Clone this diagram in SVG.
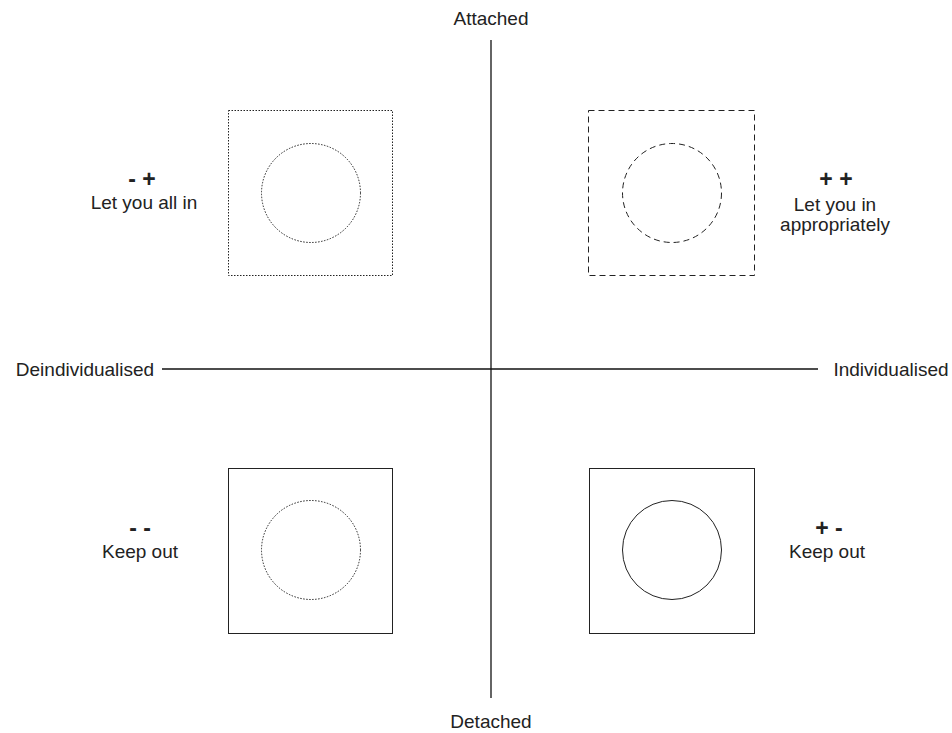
<svg xmlns="http://www.w3.org/2000/svg" width="952" height="733" viewBox="0 0 952 733">
<style>
text{font-family:"Liberation Sans",Arial,sans-serif;font-size:19px;fill:#222;text-anchor:middle}
.sign{font-size:23px;font-weight:bold}
.sh{fill:none;stroke:#222;stroke-width:1}
.dot{stroke-dasharray:1.5 1.5}
.dash{stroke-dasharray:6 4}
.axis{stroke:#111;stroke-width:1.3}
</style>
<rect width="952" height="733" fill="#fff"/>
<g id="connectors">
<line class="axis" x1="491" y1="40" x2="491" y2="698"/>
<line class="axis" x1="162" y1="369" x2="818" y2="369"/>
</g>
<g id="axis-labels">
<text x="491" y="25">Attached</text>
<text x="491" y="728">Detached</text>
<text x="85" y="376">Deindividualised</text>
<text x="891" y="376">Individualised</text>
</g>
<g id="q-tl">
<rect class="sh dot" x="228.5" y="110.5" width="164" height="165"/>
<circle class="sh dot" cx="311" cy="193" r="49.5"/>
<text class="sign" x="142" y="187">- +</text>
<text x="144" y="209">Let you all in</text>
</g>
<g id="q-tr">
<rect class="sh dash" x="588.5" y="110.5" width="166" height="165"/>
<circle class="sh dash" cx="672" cy="193" r="49.5"/>
<text class="sign" x="836" y="187">+ +</text>
<text x="835" y="211">Let you in</text>
<text x="835" y="231">appropriately</text>
</g>
<g id="q-bl">
<rect class="sh" x="228.5" y="468.5" width="164" height="165"/>
<circle class="sh dot" cx="311" cy="550" r="49.5"/>
<text class="sign" x="140" y="536">- -</text>
<text x="140" y="558">Keep out</text>
</g>
<g id="q-br">
<rect class="sh" x="589.5" y="468.5" width="165" height="165"/>
<circle class="sh" cx="672" cy="550" r="49.5"/>
<text class="sign" x="829" y="536">+ -</text>
<text x="827" y="558">Keep out</text>
</g>
</svg>
